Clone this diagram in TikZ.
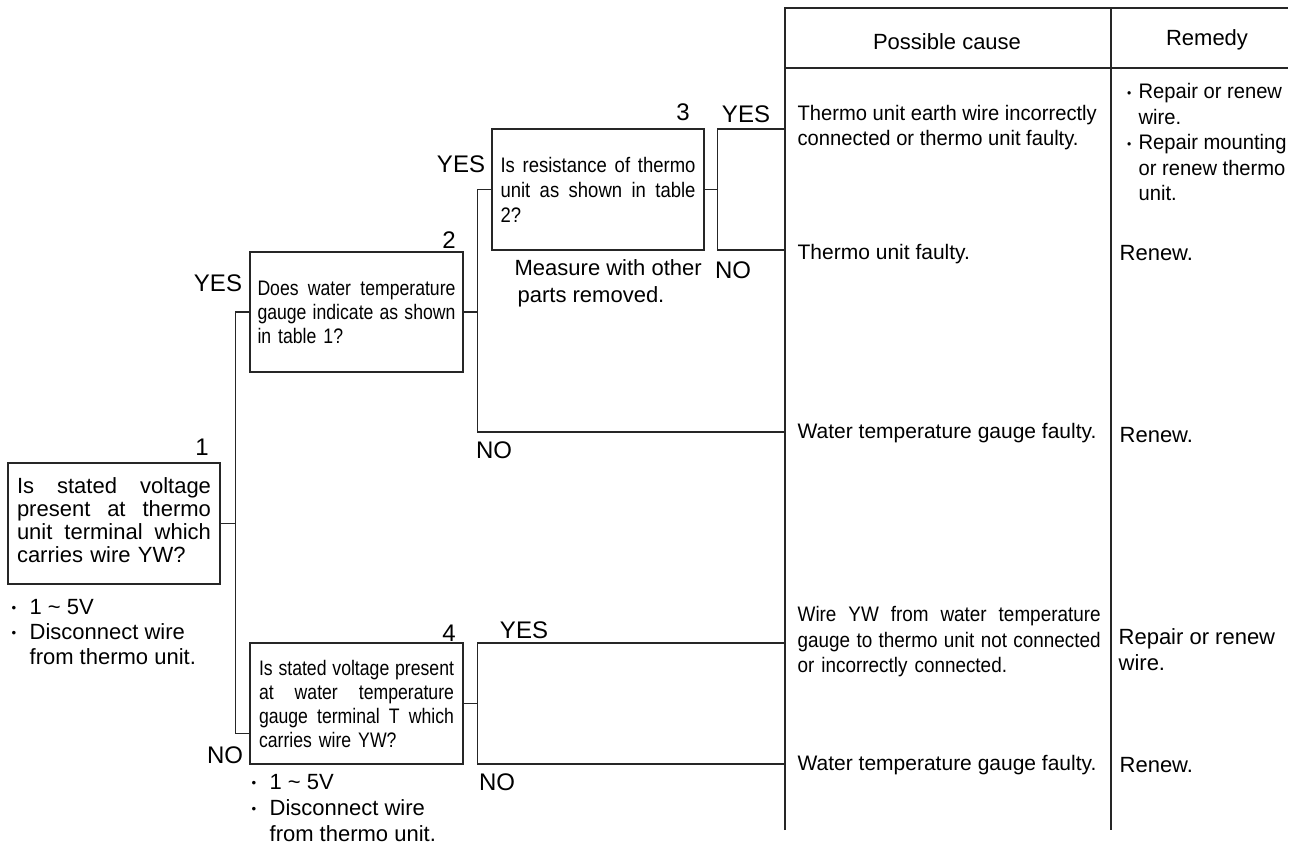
\documentclass[tikz,border=0pt]{standalone}
\usepackage{fontspec}
\setmainfont{Liberation Sans}
\newfontfamily\cndA[FakeStretch=0.84]{Liberation Sans}
\newfontfamily\cndB[FakeStretch=0.88]{Liberation Sans}
\newfontfamily\cndC[FakeStretch=0.90]{Liberation Sans}
\newfontfamily\cndD[FakeStretch=0.96]{Liberation Sans}
\newcommand\fsz[2]{\fontsize{#1}{#2}\selectfont}
% one fully justified line of a given width (stretchable word spaces restored)
\newcommand\jline[2]{{\spaceskip=0pt\xspaceskip=0pt\makebox[#1][s]{#2}}}
% small bullet followed by its hanging indent
\newcommand\bul{\makebox[18pt][l]{\raisebox{1.5pt}{\scalebox{0.6}{\textbullet}}}}
\newcommand\bulc{\makebox[19pt][c]{\raisebox{1.5pt}{\scalebox{0.6}{\textbullet}}}}

\tikzset{
  qbox/.style={draw, inner xsep=0pt, inner ysep=0pt, align=left},
  lbl/.style={inner sep=0pt, font=\fsz{24}{28}},
  txt/.style={inner sep=0pt, align=left, anchor=west},
}

\begin{document}
\begin{tikzpicture}[x=1pt, y=-1pt, line width=1.3pt, draw=black!85]
\useasboundingbox (0,0) rectangle (1297,851);

% ---------- question boxes ----------
\node[qbox, minimum width=212pt, minimum height=121pt, text width=194pt,
      font=\fsz{22}{23}] (b1) at (114,523.5)
  {\jline{194pt}{Is stated voltage}\\
   \jline{194pt}{present at thermo}\\
   \jline{194pt}{unit terminal which}\\
   carries wire YW?\strut};

\node[qbox, minimum width=213pt, minimum height=120pt, text width=198pt,
      font=\cndA\fsz{21}{24}] (b2) at (356.5,312)
  {\jline{198pt}{Does water temperature}\\
   \jline{198pt}{gauge indicate as shown}\\
   in table 1?};

\node[qbox, minimum width=212pt, minimum height=121pt, text width=195pt,
      font=\cndB\fsz{21}{25}] (b3) at (598,189.5)
  {\jline{195pt}{Is resistance of thermo}\\
   \jline{195pt}{unit as shown in table}\\
   2?};

\node[qbox, minimum width=213pt, minimum height=121pt, text width=195pt,
      font=\cndA\fsz{21}{24}] (b4) at (356.5,703.5)
  {\jline{195pt}{Is stated voltage present}\\
   \jline{195pt}{at water temperature}\\
   \jline{195pt}{gauge terminal T which}\\
   carries wire YW?};

% ---------- step numbers and branch labels ----------
\node[lbl] (s1) at (202,447) {1};
\node[lbl] (s2) at (449,240) {2};
\node[lbl] (s3) at (683,112) {3};
\node[lbl] (s4) at (449,633) {4};

\node[lbl] (yes2)  at (218,283) {YES};
\node[lbl] (yes3)  at (461,164) {YES};
\node[lbl] (yes3r) at (746,114) {YES};
\node[lbl] (no3)   at (733,270) {NO};
\node[lbl] (no2)   at (494,450) {NO};
\node[lbl] (yes4)  at (524,630) {YES};
\node[lbl] (no4l)  at (225,755) {NO};
\node[lbl] (no4)   at (497,782) {NO};

% ---------- notes ----------
\node[txt, font=\fsz{22}{27}] (m3) at (514,283.5)
  {Measure with other\\ \hspace*{3pt}parts removed.};
\node[txt, font=\fsz{22}{25}] (note1) at (11,632)
  {\bul 1 \textasciitilde\ 5V\\ \bul Disconnect wire\\ \phantom{\bul}from thermo unit.};
\node[txt, font=\fsz{22}{26}] (note4) at (251,808)
  {\bul 1 \textasciitilde\ 5V\\ \bul Disconnect wire\\ \phantom{\bul}from thermo unit.};

% ---------- connectors ----------
\coordinate (t1)   at ([xshift=15pt]b1.east);
\coordinate (b4in) at ([yshift=-30pt]b4.west);
\draw (b1.east) -- (t1);
\draw (b2.west) -| (t1) |- (b4in);

\coordinate (t2) at ([xshift=14pt]b2.east);
\coordinate (n2) at (785,432);
\draw (b2.east) -- (t2);
\draw (b3.west) -| (t2) |- (n2);

\coordinate (k3) at ([xshift=13pt]b3.east);
\coordinate (y3) at (785,129);
\coordinate (n3) at (785,250);
\draw (b3.east) -- (k3);
\draw (y3) -| (k3) |- (n3);

\coordinate (k4) at ([xshift=14pt]b4.east);
\coordinate (y4) at (785,643);
\coordinate (n4) at (785,764);
\draw (b4.east) -- (k4);
\draw (y4) -| (k4) |- (n4);

% ---------- result table ----------
\coordinate (tbl) at (785,830);
\coordinate (ttl) at (785,8);
\coordinate (ttr) at (1288,8);
\coordinate (thl) at (785,68);
\coordinate (thr) at (1288,68);
\coordinate (tmt) at (1111,8);
\coordinate (tmb) at (1111,830);
\draw (tbl) -- (ttl) -- (ttr);
\draw (thl) -- (thr);
\draw (tmt) -- (tmb);

\node[inner sep=0pt, font=\fsz{22}{25}] (h1) at (947,42) {Possible cause};
\node[inner sep=0pt, font=\fsz{22}{25}] (h2) at (1207,40) {Remedy};

\node[txt, font=\cndD\fsz{21}{25}] (c1) at (797,127.5)
  {Thermo unit earth wire incorrectly\\ connected or thermo unit faulty.};
\node[txt, font=\cndD\fsz{21}{25.5}] (r1) at (1119,142)
  {\bulc Repair or renew\\ \phantom{\bulc}wire.\\ \bulc Repair mounting\\
   \phantom{\bulc}or renew thermo\\ \phantom{\bulc}unit.};

\node[txt, font=\fsz{21}{25}] (c2) at (797,254) {Thermo unit faulty.};
\node[txt, font=\fsz{22}{25}] (r2) at (1119,253) {Renew.};

\node[txt, font=\fsz{21}{25}] (c3) at (797,433) {Water temperature gauge faulty.};
\node[txt, font=\fsz{22}{25}] (r3) at (1119,435) {Renew.};

\node[txt, font=\cndC\fsz{21}{25.5}, text width=303pt] (c4) at (797,642)
  {\jline{303pt}{Wire YW from water temperature}\\
   \jline{303pt}{gauge to thermo unit not connected}\\
   or incorrectly connected.};
\node[txt, font=\fsz{22}{26}] (r4) at (1118,650) {Repair or renew\\ wire.};

\node[txt, font=\fsz{21}{25}] (c5) at (797,765) {Water temperature gauge faulty.};
\node[txt, font=\fsz{22}{25}] (r5) at (1119,765) {Renew.};
\end{tikzpicture}
\end{document}
